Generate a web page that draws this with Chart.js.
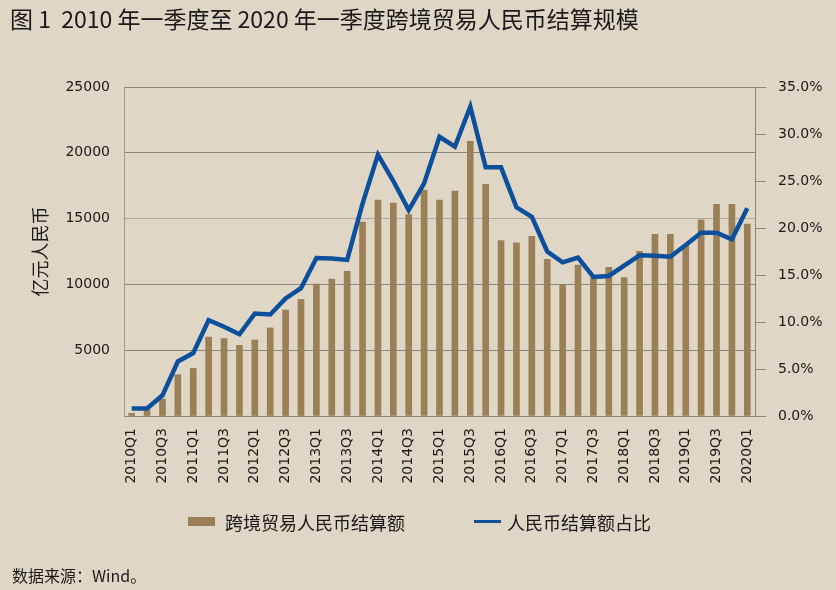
<!DOCTYPE html>
<html>
<head>
<meta charset="utf-8">
<script src="https://cdn.jsdelivr.net/npm/chart.js@4"></script>
<style>
  html, body { margin: 0; padding: 0; }
  body { width: 836px; height: 590px; background: #DFD6C6; position: relative; overflow: hidden;
         font-family: "Noto Sans CJK SC", "Noto Sans", sans-serif; color: #1a1a1a; }
  #wrap { position: absolute; left: 0; top: 0; width: 836px; height: 590px; }
  .title { position: absolute; left: 10px; top: 3px; font-size: 23px; line-height: 30px; white-space: nowrap; }
  .leg { position: absolute; font-size: 18px; line-height: 24px; white-space: nowrap; }
  .sw { position: absolute; }
  .src { position: absolute; left: 12px; top: 564px; font-size: 16px; line-height: 22px; white-space: nowrap; }
</style>
</head>
<body>
<div id="wrap"><canvas id="c" width="836" height="590"></canvas></div>
<div class="title">图 1&nbsp;&nbsp;2010 年一季度至 2020 年一季度跨境贸易人民币结算规模</div>
<div class="sw" style="left:188px;top:517px;width:27px;height:9px;background:#9B8057;"></div>
<div class="leg" style="left:225px;top:510px;">跨境贸易人民币结算额</div>
<div class="sw" style="left:474px;top:520px;width:27px;height:3px;background:#0C509C;"></div>
<div class="leg" style="left:507px;top:510px;">人民币结算额占比</div>
<div class="src">数据来源：Wind。</div>
<script>
const categories = [
  "2010Q1","2010Q2","2010Q3","2010Q4",
  "2011Q1","2011Q2","2011Q3","2011Q4",
  "2012Q1","2012Q2","2012Q3","2012Q4",
  "2013Q1","2013Q2","2013Q3","2013Q4",
  "2014Q1","2014Q2","2014Q3","2014Q4",
  "2015Q1","2015Q2","2015Q3","2015Q4",
  "2016Q1","2016Q2","2016Q3","2016Q4",
  "2017Q1","2017Q2","2017Q3","2017Q4",
  "2018Q1","2018Q2","2018Q3","2018Q4",
  "2019Q1","2019Q2","2019Q3","2019Q4",
  "2020Q1"
];
// 跨境贸易人民币结算额（亿元）
const settlementAmount = [
  200, 500, 1290, 3140,
  3620, 6000, 5880, 5370,
  5775, 6690, 8050, 8860,
  10030, 10410, 11000, 14740,
  16410, 16185, 15300, 17170,
  16410, 17100, 20870, 17600,
  13330, 13150, 13650, 11900,
  9950, 11470, 10500, 11300,
  10510, 12510, 13800, 13800,
  12940, 14900, 16090, 16090,
  14590
];
// 人民币结算额占比（%）
const settlementShare = [
  0.8, 0.8, 2.2, 5.8,
  6.7, 10.2, 9.5, 8.7,
  10.9, 10.8, 12.5, 13.6,
  16.8, 16.75, 16.6, 22.6,
  27.8, 25.0, 21.9, 24.75,
  29.7, 28.65, 32.9, 26.45,
  26.45, 22.2, 21.2, 17.5,
  16.35, 16.85, 14.8, 14.9,
  16.0, 17.1, 17.05, 16.95,
  18.2, 19.5, 19.5, 18.8,
  22.1
];
const leftTicks = [0, 5000, 10000, 15000, 20000, 25000];
const rightTicks = [0, 5, 10, 15, 20, 25, 30, 35];

const seriesNames = ["跨境贸易人民币结算额", "人民币结算额占比"];
const axisTitle = "亿元人民币";

const gridGray = "#8C8680";
const tickFont = { family: "DejaVu Sans", size: 14 };

new Chart(document.getElementById("c"), {
  data: {
    labels: categories,
    datasets: [
      {
        type: "line",
        label: seriesNames[1],
        data: settlementShare,
        yAxisID: "y1",
        borderColor: "#0C509C",
        backgroundColor: "#0C509C",
        borderWidth: 4.5,
        pointRadius: 0,
        tension: 0,
        borderJoinStyle: "miter",
        borderCapStyle: "butt",
        order: 0
      },
      {
        type: "bar",
        label: seriesNames[0],
        data: settlementAmount,
        yAxisID: "y",
        backgroundColor: "#9B8057",
        barThickness: 6,
        order: 1
      }
    ]
  },
  options: {
    responsive: false,
    animation: false,
    devicePixelRatio: 1,
    layout: { padding: { top: 87, left: 0, right: 0, bottom: 0 } },
    plugins: { legend: { display: false }, tooltip: { enabled: false } },
    scales: {
      x: {
        offset: true,
        grid: { display: false, drawTicks: false },
        border: { display: true, color: gridGray, width: 1 },
        ticks: {
          autoSkip: false,
          minRotation: 90,
          maxRotation: 90,
          padding: 12,
          color: "#1a1a1a",
          font: tickFont,
          callback: (v, i) => (i % 2 === 0 ? categories[i] : "")
        },
        afterFit: (s) => { s.height = 174; }
      },
      y: {
        position: "left",
        min: 0,
        max: 25000,
        afterBuildTicks: (s) => { s.ticks = leftTicks.map(v => ({ value: v })); },
        grid: {
          drawTicks: false,
          color: (ctx) => (ctx.tick && ctx.tick.value === 15000 ? "#B2A99C" : gridGray),
          lineWidth: 1
        },
        border: { display: true, color: "#A19A91", width: 1 },
        ticks: { padding: 14, color: "#1a1a1a", font: tickFont, callback: (v) => (v === 0 ? "" : String(v)) },
        title: {
          display: true,
          text: axisTitle,
          color: "#1a1a1a",
          font: { family: "Noto Sans CJK SC", size: 18 },
          padding: { top: 29, bottom: 0 }
        },
        afterFit: (s) => { s.width = 124; }
      },
      y1: {
        position: "right",
        min: 0,
        max: 35,
        afterBuildTicks: (s) => { s.ticks = rightTicks.map(v => ({ value: v })); },
        grid: { drawOnChartArea: false, drawTicks: true, tickLength: 11, color: gridGray },
        border: { display: true, color: gridGray, width: 1 },
        ticks: {
          padding: 12,
          color: "#1a1a1a",
          font: tickFont,
          callback: (v) => Number(v).toFixed(1) + "%"
        },
        afterFit: (s) => { s.width = 81; }
      }
    }
  }
});
</script>
</body>
</html>
